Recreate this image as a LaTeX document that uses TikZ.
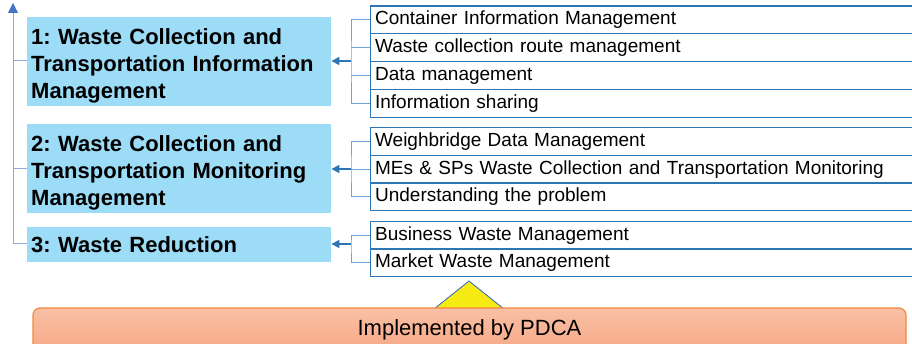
\documentclass[tikz,border=0pt]{standalone}
\usepackage{fontspec}
\setmainfont{Liberation Sans}
\usetikzlibrary{arrows.meta}
\frenchspacing
\definecolor{mainfill}{HTML}{9DDCF6}
\definecolor{rowblue}{HTML}{2E75B6}
\definecolor{brk}{HTML}{6FA3D8}
\definecolor{arrblue}{HTML}{2E75B6}
\definecolor{leftln}{HTML}{8FAADC}
\definecolor{leftarr}{HTML}{4472C4}
\definecolor{orbord}{HTML}{F08A3E}
\definecolor{ortop}{HTML}{F9C0A5}
\definecolor{orbot}{HTML}{F5A47F}
\definecolor{tri}{HTML}{F5EB12}
\definecolor{tribord}{HTML}{4472C4}
\newcommand{\mystrut}{\rule{0pt}{24pt}}
\tikzset{
  mainbox/.style={fill=mainfill, draw=none, anchor=north west, align=left,
    inner xsep=4pt, font=\fontsize{22}{26.8}\selectfont\bfseries, text width=296pt},
  rowbox/.style={draw=rowblue, line width=1.2pt, anchor=north west, align=left,
    minimum width=560pt, text width=551pt, inner xsep=4.5pt, inner ysep=0pt,
    font=\fontsize{19}{22}\selectfont},
  brline/.style={draw=brk, line width=1pt},
  arrline/.style={draw=arrblue, line width=1.6pt, -{Triangle[length=8pt,width=8pt]}},
  leftline/.style={draw=leftln, line width=1pt},
}
\begin{document}
\begin{tikzpicture}[x=1pt,y=-1pt]
\useasboundingbox (0,0) rectangle (912,344);
\clip (0,0) rectangle (912,344);
% main boxes
\node[mainbox, minimum height=89pt] (m1) at (27,17) {\mystrut 1: Waste Collection and Transportation Information Management};
\node[mainbox, minimum height=88pt] (m2) at (27,124) {\mystrut 2: Waste Collection and Transportation Monitoring Management};
\node[mainbox, minimum height=35pt] (m3) at (27,227) {3: Waste Reduction};
% rows group 1
\node[rowbox, minimum height=27.8pt] (r11) at (370,5.5) {Container Information Management};
\node[rowbox, minimum height=27.8pt] (r12) at (370,33.3) {Waste collection route management};
\node[rowbox, minimum height=27.8pt] (r13) at (370,61.1) {Data management};
\node[rowbox, minimum height=27.8pt] (r14) at (370,88.9) {Information sharing};
% rows group 2
\node[rowbox, minimum height=27.7pt] (r21) at (370,127) {Weighbridge Data Management};
\node[rowbox, minimum height=27.7pt] (r22) at (370,154.7) {MEs \& SPs Waste Collection and Transportation Monitoring};
\node[rowbox, minimum height=27.7pt] (r23) at (370,182.4) {Understanding the problem};
% rows group 3
\node[rowbox, minimum height=27.5pt] (r31) at (370,221) {Business Waste Management};
\node[rowbox, minimum height=27.5pt] (r32) at (370,248.5) {Market Waste Management};
% bracket coordinates
\coordinate (b1) at (351,61);
\coordinate (b2) at (351,169);
\coordinate (b3) at (351,244);
% group 1 bracket
\draw[brline] (r11.west) -| (b1) |- (r14.west);
\draw[brline] (r12.west) -- (r12.west -| b1);
\draw[brline] (r13.west) -- (r13.west -| b1);
\draw[arrline] (b1) -- (b1 -| m1.east);
% group 2 bracket
\draw[brline] (r21.west) -| (b2) |- (r23.west);
\draw[brline] (r22.west) -- (r22.west -| b2);
\draw[arrline] (b2) -- (b2 -| m2.east);
% group 3 bracket
\draw[brline] (r31.west) -| (b3) |- (r32.west);
\draw[arrline] (b3) -- (b3 -| m3.east);
% left spine
\coordinate (top) at (13,3);
\coordinate (l1) at (13,61);
\coordinate (l2) at (13,169);
\coordinate (l3) at (13,244);
\draw[leftline] (l3) -- (13,10);
\fill[leftarr] (top) -- ++(-5,10) -- ++(10,0) -- cycle;
\draw[leftline] (l1) -- (l1 -| m1.west);
\draw[leftline] (l2) -- (l2 -| m2.west);
\draw[leftline] (l3) -- (l3 -| m3.west);
% triangle
\coordinate (apex) at (469,281);
\draw[fill=tri, draw=tribord, line width=0.9pt] (apex) -- (504,309) -- (434,309) -- cycle;
% PDCA bar
\shade[top color=ortop, bottom color=orbot, draw=orbord, line width=1.2pt, rounded corners=7pt]
  (33,308) rectangle (906,360);
\node[font=\fontsize{22}{26}\selectfont, anchor=base] (pdca) at (469.5,335) {Implemented by PDCA};
\end{tikzpicture}
\end{document}
